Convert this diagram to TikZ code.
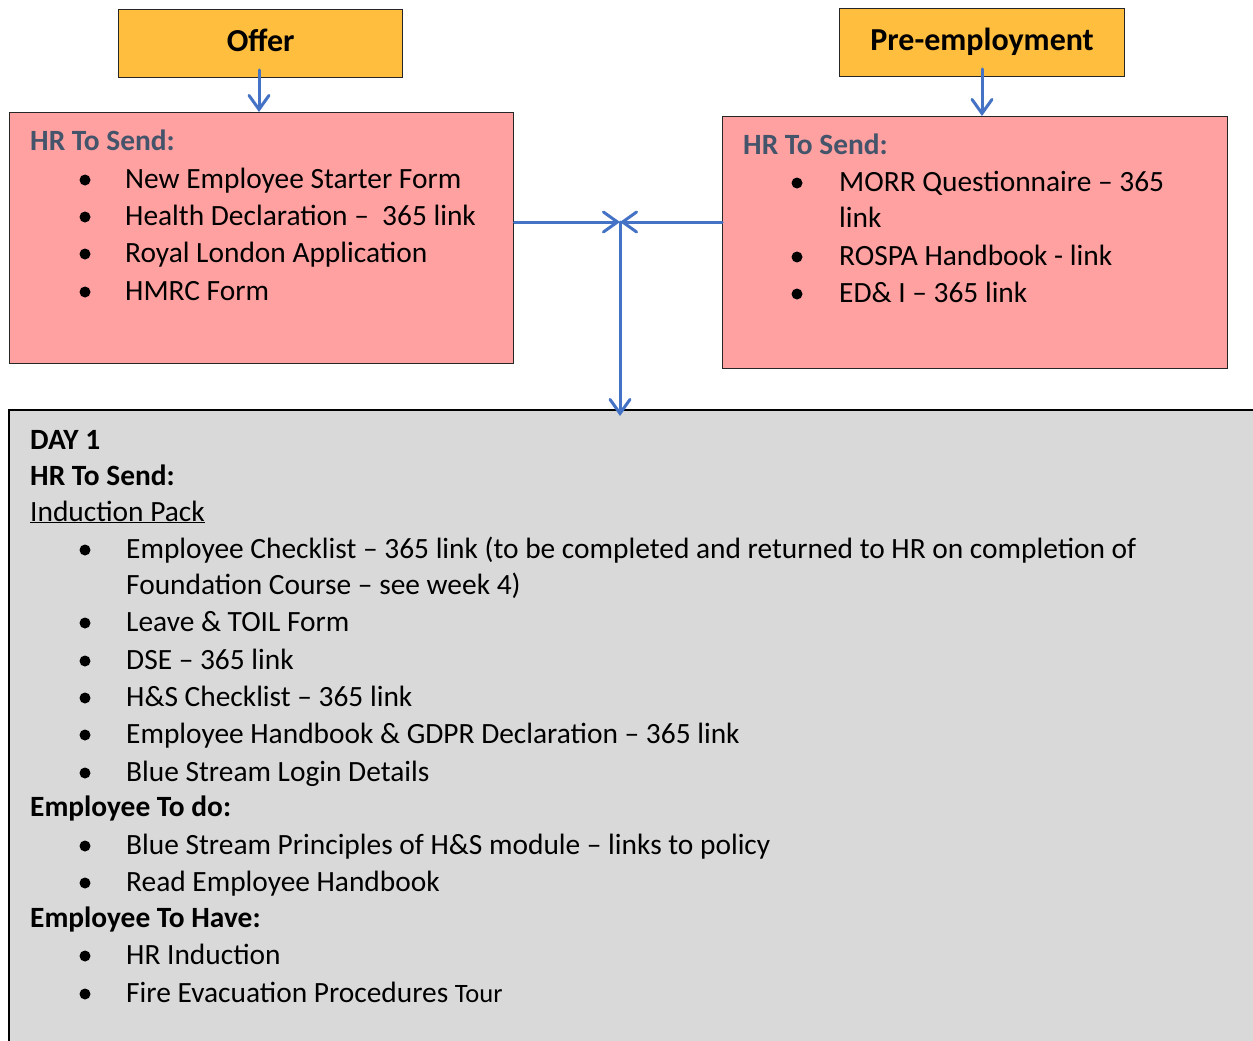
\documentclass[tikz,border=0pt]{standalone}
\usepackage{fontspec}
\setmainfont{Carlito}
\usetikzlibrary{arrows.meta}
\definecolor{offerfill}{RGB}{255,190,61}
\definecolor{pinkfill}{RGB}{255,161,161}
\definecolor{grayfill}{RGB}{217,217,217}
\definecolor{arrowblue}{RGB}{68,114,196}
\definecolor{hdrslate}{RGB}{68,84,106}
\newcommand\bitem[5]{% name, bullet x, text x, baseline y, text
  \fill (#2,#4-8) circle (5.5pt);
  \node[txt] (#1) at (#3,#4) {#5};}
\begin{document}
\begin{tikzpicture}[x=1pt,y=-1pt,
  txt/.style={anchor=base west,inner sep=0pt,font=\fontsize{29.4}{37}\selectfont},
  hdr/.style={txt,font=\fontsize{29.4}{37}\selectfont\bfseries},
  stagebox/.style={draw=black!85,line width=1.3pt,fill=offerfill,anchor=north west,inner sep=0pt,
     text height=22pt,text depth=7pt,font=\fontsize{32}{37}\selectfont\bfseries},
  sendbox/.style={draw=black!85,line width=1.3pt,fill=pinkfill,anchor=north west,inner sep=0pt},
  arr/.style={draw=arrowblue,line width=3pt,line cap=round,-{Straight Barb[length=14pt,width=20pt,line cap=round]}}]
\useasboundingbox (0,0) rectangle (1253,1041);

% boxes
\node[stagebox,minimum width=284pt,minimum height=68pt] (offer) at (118,9) {Offer};
\node[stagebox,minimum width=285pt,minimum height=68pt] (pre) at (839,8) {Pre-employment};
\node[sendbox,minimum width=504pt,minimum height=251pt] (lefthr) at (9,112) {};
\node[sendbox,minimum width=505pt,minimum height=252pt] (righthr) at (722,116) {};
\node[fill=grayfill,anchor=north west,inner sep=0pt,minimum width=1244pt,minimum height=631pt] (day) at (9,410) {};
\draw[black,line width=1.6pt] (day.south west) -- (day.north west) -- (day.north east);

% left box text
\node[hdr,text=hdrslate] (lh) at (30,150) {HR To Send:};
\bitem{l1}{85}{125}{188}{New Employee Starter Form}
\bitem{l2}{85}{125}{225}{Health Declaration –\ \ 365 link}
\bitem{l3}{85}{125}{262}{Royal London Application}
\bitem{l4}{85}{125}{300}{HMRC Form}

% right box text
\node[hdr,text=hdrslate] (rh) at (743,154) {HR To Send:};
\bitem{r1}{797}{839}{191}{MORR Questionnaire – 365}
\node[txt] (r1b) at (839,227) {link};
\bitem{r2}{797}{839}{265}{ROSPA Handbook - link}
\bitem{r3}{797}{839}{302}{ED\& I – 365 link}

% day 1 text
\node[hdr] (d0) at (30,449) {DAY 1};
\node[hdr] (d1) at (30,485) {HR To Send:};
\node[txt] (d2) at (30,521) {\underline{Induction Pack}};
\bitem{g1}{85}{126}{558}{Employee Checklist – 365 link (to be completed and returned to HR on completion of}
\node[txt] (g1b) at (126,594) {Foundation Course – see week 4)};
\bitem{g2}{85}{126}{631}{Leave \& TOIL Form}
\bitem{g3}{85}{126}{669}{DSE – 365 link}
\bitem{g4}{85}{126}{706}{H\&S Checklist – 365 link}
\bitem{g5}{85}{126}{743}{Employee Handbook \& GDPR Declaration – 365 link}
\bitem{g6}{85}{126}{781}{Blue Stream Login Details}
\node[hdr] (d3) at (30,816) {Employee To do:};
\bitem{g7}{85}{126}{854}{Blue Stream Principles of H\&S module – links to policy}
\bitem{g8}{85}{126}{891}{Read Employee Handbook}
\node[hdr] (d4) at (30,927) {Employee To Have:};
\bitem{g9}{85}{126}{964}{HR Induction}
\bitem{g10}{85}{126}{1002}{Fire Evacuation Procedures {\fontsize{26.5}{37}\selectfont Tour}}

% connectors
\coordinate (j) at (620,222);
\coordinate (oa) at (259,70);
\coordinate (pa) at (982,69);
\draw[arr] (oa) -- (oa |- lefthr.north);
\draw[arr] (pa) -- (pa |- righthr.north);
\draw[arr] (lefthr.east |- j) -- (j);
\draw[arr] (righthr.west |- j) -- (j);
\draw[arr] (j) -- ([yshift=-6pt]day.north -| j);
\end{tikzpicture}
\end{document}
